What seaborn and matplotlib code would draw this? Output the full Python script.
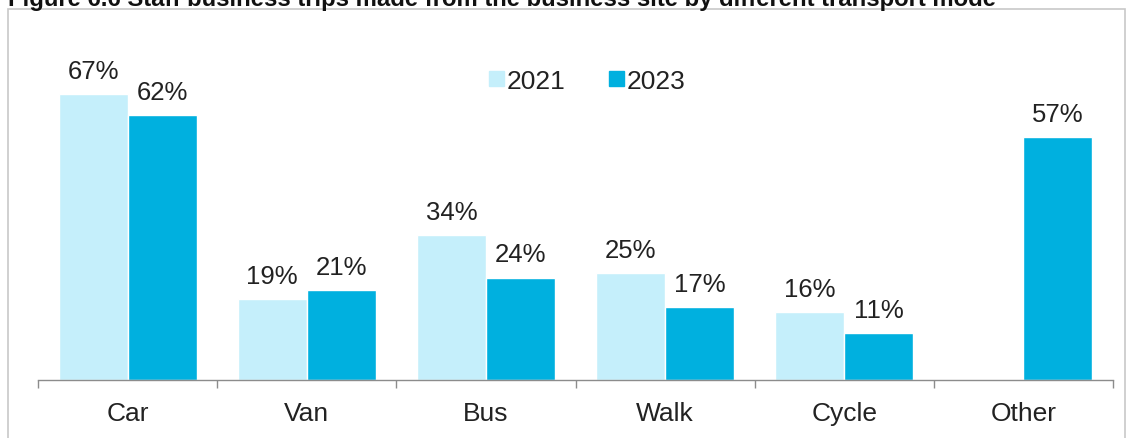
import numpy as np
import pandas as pd
import seaborn as sns
import matplotlib.pyplot as plt
from matplotlib.patches import Rectangle

modes = ["Car", "Van", "Bus", "Walk", "Cycle", "Other"]
years = ["2021", "2023"]
share_2021 = [67, 19, 34, 25, 16, np.nan]
share_2023 = [62, 21, 24, 17, 11, 57]
colors = {"2021": "#C5EFFB", "2023": "#00B0DF"}

df = pd.DataFrame({
    "mode": modes * 2,
    "year": [years[0]] * len(modes) + [years[1]] * len(modes),
    "share": share_2021 + share_2023,
})

sns.set_theme(style="white")
plt.rcParams["font.family"] = ["Liberation Sans", "DejaVu Sans"]

W, H = 1129, 439
fig = plt.figure(figsize=(W / 100, H / 100), dpi=100)
ax = fig.add_axes([38 / W, (H - 381) / H, (1113 - 38) / W, (381 - 61) / H])

sns.barplot(data=df, x="mode", y="share", hue="year", order=modes,
            hue_order=years, palette=colors, width=0.77, saturation=1,
            ax=ax, legend=False)

txt = "#222222"
for cont, vals in zip(ax.containers, [share_2021, share_2023]):
    for bar, v in zip(cont, vals):
        if np.isnan(v):
            continue
        ax.annotate(f"{v:.0f}%", (bar.get_x() + bar.get_width() / 2, v),
                    xytext=(0, 8), textcoords="offset points",
                    ha="center", va="bottom", fontsize=18.5, color=txt)

ax.set_xlim(-0.5, len(modes) - 0.5)
ax.set_ylim(0, 75)
ax.set_xlabel("")
ax.set_ylabel("")
ax.set_yticks([])
for side in ["top", "right", "left"]:
    ax.spines[side].set_visible(False)
ax.spines["bottom"].set_color("#8c8c8c")
ax.spines["bottom"].set_linewidth(1)

ax.set_xticks(range(len(modes)))
ax.set_xticklabels(modes, fontsize=19, color=txt)
ax.tick_params(axis="x", which="major", length=0, pad=15)
ax.set_xticks(np.arange(-0.5, len(modes), 1), minor=True)
ax.tick_params(axis="x", which="minor", length=6, width=1, color="#8c8c8c",
               bottom=True)

handles = [Rectangle((0, 0), 1, 1, color=colors[y]) for y in years]
ax.legend(handles, years, loc="center", bbox_to_anchor=(0.511, 0.935),
          ncol=2, frameon=False, fontsize=19, handlelength=0.55,
          handleheight=0.55, handletextpad=0.12, columnspacing=1.65,
          labelcolor=txt)

fig.patches.append(Rectangle((8 / W, -0.05), (1125 - 8) / W, 1.05 - 10 / H,
                             transform=fig.transFigure, fill=False,
                             edgecolor="#c8c8c8", linewidth=1.2))
fig.text(8 / W, 1 - 6 / H,
         "Figure 6.6 Staff business trips made from the business site by different transport mode",
         fontsize=17.2, fontweight="bold", color="#111111", ha="left",
         va="baseline")

fig.savefig("out.png", dpi=100)
